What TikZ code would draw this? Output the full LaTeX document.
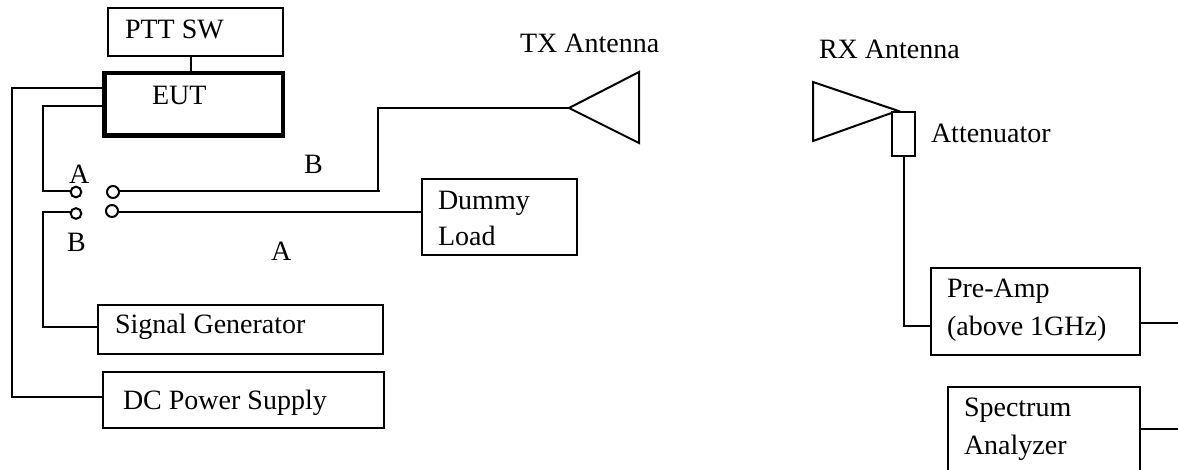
\documentclass[tikz,border=0pt]{standalone}
\usepackage{fontspec}
\setmainfont{Liberation Serif}
\usetikzlibrary{calc}
\tikzset{
  x=0.75pt,y=-0.75pt,
  boxn/.style={draw=black,line width=1.5pt,rectangle,inner sep=0pt,outer sep=0pt,anchor=north west},
  eutbox/.style={boxn,line width=3.4pt},
  wire/.style={draw=black,line width=1.5pt,line cap=butt,line join=miter},
  termn/.style={draw=black,line width=1.5pt,circle,inner sep=0pt,outer sep=0pt,minimum size=8pt,fill=white},
  lab/.style={anchor=base west,inner sep=0pt,outer sep=0pt,font=\fontsize{21}{25}\selectfont,text=black},
}
\newcommand{\bx}[6]{\node[#1,minimum width=#4*0.75pt,minimum height=#5*0.75pt] (#2) at (#3) {#6};}
\begin{document}
\begin{tikzpicture}
\useasboundingbox (0,0) rectangle (1178,470);
\fill[white] (0,0) rectangle (1178,470);
% boxes
\bx{boxn}{ptt}{108,8}{175}{48}{}
\bx{eutbox}{eut}{104.5,73}{178.5}{62.5}{}
\bx{boxn}{dummy}{422,179}{154.5}{76}{}
\bx{boxn}{sig}{97.5,305}{285}{49}{}
\bx{boxn}{dc}{102.5,372}{281.5}{55.5}{}
\bx{boxn}{atten}{891.5,112}{23.5}{44}{}
\bx{boxn}{pre}{931,268}{208.5}{87}{}
\bx{boxn}{spec}{948,387}{191.5}{100}{}
% terminals
\node[termn] (ta) at (76,192) {};
\node[termn] (tb) at (76,213.5) {};
\node[termn,minimum size=9pt] (tc) at (113,192) {};
\node[termn,minimum size=9pt] (td) at (112,211) {};
% antennas
\coordinate (txtip) at (569,108);
\coordinate (txa) at (639,72);
\coordinate (txb) at (639,143);
\draw[wire] (txtip) -- (txa) -- (txb) -- cycle;
\coordinate (rxa) at (813,82);
\coordinate (rxb) at (813,141);
\coordinate (rxtip) at (900,111.5);
\coordinate (rxe) at (891.5,113);
\draw[wire] (rxtip) -- (rxa) -- (rxb) -- (rxe);
% connectors
\draw[wire] (eut.north west |- 0,88) ++(-2,0) coordinate (e1) -- (11.5,88) -- (11.5,397) -- (dc.west |- 0,397);
\draw[wire] ($(eut.north west |- 0,106.5)+(-2,0)$) -- (43,106.5) -- (43,191.5) -- (ta.west |- 0,191.5);
\draw[wire] (tb.west |- 0,212) -- (43,212) -- (43,327) -- (sig.west |- 0,327);
\coordinate (bend) at (377.5,191.5);
\coordinate (bendend) at (380,191.5);
\draw[wire] (tc.east |- bend) -- (bendend);
\draw[wire] (bend) -- (377.5,108) -- (txtip);
\draw[wire] (td.east |- 0,212) -- (dummy.west |- 0,212);
\draw[wire] (ptt.south -| 190.5,0) -- (eut.north -| 190.5,0);
\draw[wire] (atten.south -| 904,0) -- (904,326) -- (pre.west |- 0,326);
\coordinate (preout) at (1178,323);
\coordinate (specout) at (1178,429);
\draw[wire] (pre.east |- preout) -- (preout);
\draw[wire] (spec.east |- specout) -- (specout);
% labels
\node[lab] (l1) at (125,39) {PTT SW};
\node[lab] (l2) at (152,105) {EUT};
\node[lab] (l3) at (520,53) {TX Antenna};
\node[lab] (l4) at (819,59) {RX Antenna};
\node[lab] (l5) at (931,143) {Attenuator};
\node[lab] (l6) at (304,174) {B};
\node[lab] (l7) at (271,261) {A};
\node[lab] (l8) at (69,184) {A};
\node[lab] (l9) at (67,252) {B};
\node[lab] (l10) at (438,210) {Dummy};
\node[lab] (l11) at (438,246) {Load};
\node[lab] (l12) at (115,334) {Signal Generator};
\node[lab] (l13) at (123,409) {DC Power Supply};
\node[lab] (l14) at (947,297) {Pre-Amp};
\node[lab] (l15) at (947,335) {(above 1GHz)};
\node[lab] (l16) at (964,416) {Spectrum};
\node[lab] (l17) at (964,454) {Analyzer};
\end{tikzpicture}
\end{document}
